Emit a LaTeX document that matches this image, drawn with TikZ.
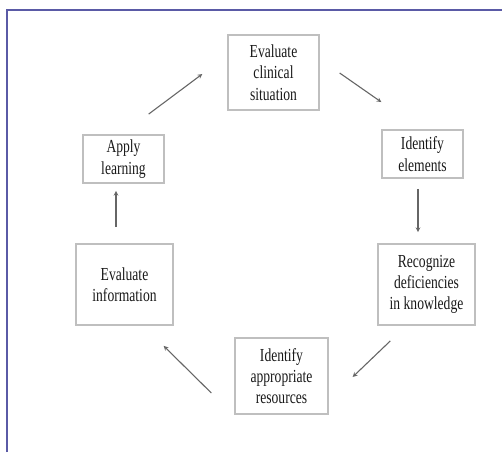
\documentclass[tikz,border=0pt]{standalone}
\usepackage{fontspec}
\setmainfont{Liberation Serif}
\usepackage{tikz}

\definecolor{frameblue}{HTML}{5A5AA6}

\begin{document}
\begin{tikzpicture}[
    x=1pt, y=1pt,
    stage/.style={
        draw=black!25,
        line width=1.3pt,
        align=center,
        inner sep=2pt,
        text=black!90,
        yscale=1.35, transform shape,
        font=\fontsize{13.6}{15.8}\selectfont
    },
    arrow/.style={->, >=stealth, line width=1.1pt, draw=black!60}
]

\useasboundingbox (0,0) rectangle (502,452);
\draw[frameblue, line width=2pt] (6.5,0) -- (6.5,441.5) -- (502,441.5);

\node (evalclin) [stage, minimum width=91pt, minimum height=55.6pt]
    at (273.5,379.5) {Evaluate\\clinical\\situation};

\node (identelem) [stage, minimum width=81pt, minimum height=35.6pt]
    at (422.5,298) {Identify\\elements};

\node (recog) [stage, minimum width=97pt, minimum height=60pt]
    at (426.5,167.5) {Recognize\\deficiencies\\in knowledge};

\node (identres) [stage, minimum width=93pt, minimum height=56.3pt]
    at (281.5,76) {Identify\\appropriate\\resources};

\node (evalinfo) [stage, minimum width=97pt, minimum height=60pt]
    at (124.5,167.5) {Evaluate\\information};

\node (apply) [stage, minimum width=81pt, minimum height=35.6pt]
    at (123.5,293) {Apply\\learning};

\draw[arrow] ([shift={(-16,20)}]apply.north east)
    -- ([shift={(-25,-1.5)}]evalclin.west);
\draw[arrow] ([shift={(20,-0.5)}]evalclin.east)
    -- ([shift={(0,27)}]identelem.north west);
\draw[arrow] ([shift={(-4.5,-10)}]identelem.south)
    -- ([shift={(-8.5,11)}]recog.north);
\draw[arrow] ([shift={(13,-15)}]recog.south west)
    -- ([shift={(24,-1)}]identres.east);
\draw[arrow] ([shift={(-23,-17)}]identres.west)
    -- ([shift={(-10,-20)}]evalinfo.south east);
\draw[arrow] ([shift={(-8.5,16)}]evalinfo.north)
    -- ([shift={(-7.5,-7)}]apply.south);

\end{tikzpicture}
\end{document}
